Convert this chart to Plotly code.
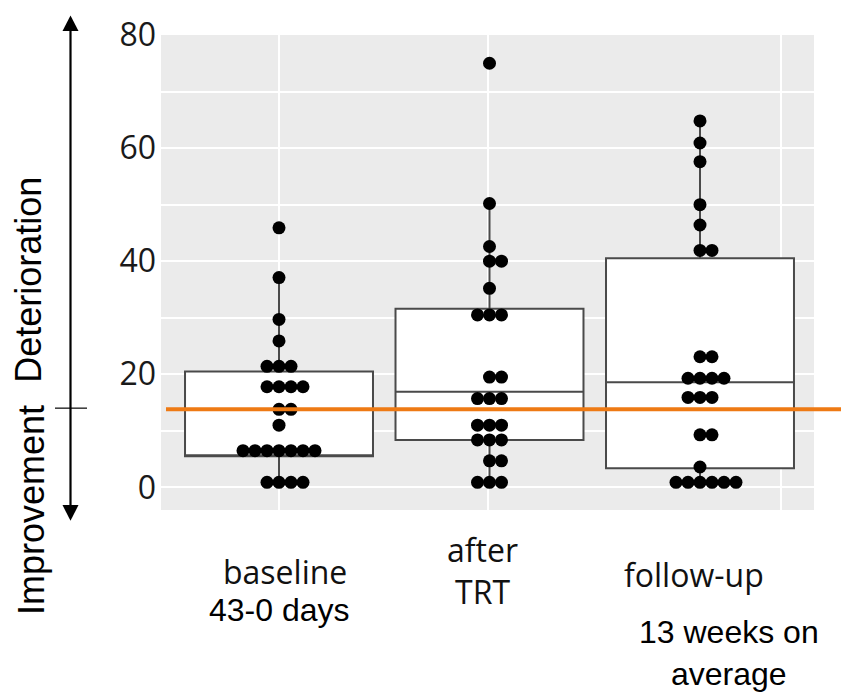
import plotly.graph_objects as go

# ---------------- data ----------------
categories = ["baseline", "after<br>TRT", "follow-up"]
sublabels = ["43-0 days", "13 weeks on<br>average"]

baseline = [45.9, 37.1, 29.7, 25.9,
            21.4, 21.4, 21.4,
            17.8, 17.8, 17.8, 17.8,
            13.8, 13.8, 11.0,
            6.5, 6.5, 6.5, 6.5, 6.5, 6.5, 6.5,
            0.9, 0.9, 0.9, 0.9]
after_trt = [75.0, 50.2, 42.6, 40.0, 40.0, 35.2,
             30.5, 30.5, 30.5,
             19.5, 19.5,
             15.7, 15.7, 15.7,
             11.0, 11.0, 11.0,
             8.4, 8.4, 8.4,
             4.7, 4.7,
             0.9, 0.9, 0.9]
follow_up = [64.8, 60.9, 57.6, 50.0, 46.4, 41.9, 41.9,
             23.1, 23.1,
             19.3, 19.3, 19.3, 19.3,
             15.9, 15.9, 15.9,
             9.3, 9.3, 3.6,
             0.9, 0.9, 0.9, 0.9, 0.9, 0.9]

box_q1 = [5.5, 8.4, 3.4]
box_median = [5.5, 16.9, 18.6]
box_q3 = [20.5, 31.6, 40.5]
box_lower = [0.9, 0.9, 0.9]
box_upper = [37.1, 50.2, 64.8]

reference_value = 13.8
y_ticks = [0, 20, 40, 60, 80]
y_minor = [10, 30, 50, 70]

# ---------------- layout helpers ----------------
L, R, T, B = 161, 814, 25, 510
W, H = R - L, B - T
def px(x):
    return (x - L) / W
def py(y):
    return (B - y) / H

positions = [1, 2, 3]
DOT_STEP = 0.057

def dot_coords(values, center):
    xs, ys = [], []
    groups = {}
    for v in values:
        groups.setdefault(v, 0)
        groups[v] += 1
    for v, n in groups.items():
        start = -((n - 1) // 2)
        for k in range(n):
            xs.append(center + (start + k) * DOT_STEP)
            ys.append(v)
    return xs, ys

fig = go.Figure()

for i in range(3):
    fig.add_trace(go.Box(
        x=[positions[i]], q1=[box_q1[i]], median=[box_median[i]], q3=[box_q3[i]],
        lowerfence=[box_lower[i]], upperfence=[box_upper[i]],
        width=0.893, whiskerwidth=0, boxpoints=False,
        fillcolor="white", line=dict(color="#4a4a4a", width=2),
        showlegend=False, hoverinfo="skip"))

for vals, c in zip([baseline, after_trt, follow_up], positions):
    xs, ys = dot_coords(vals, c)
    fig.add_trace(go.Scatter(
        x=xs, y=ys, mode="markers",
        marker=dict(color="black", size=13, line=dict(width=0)),
        showlegend=False, hoverinfo="skip"))

shapes = [
    # orange reference line
    dict(type="line", xref="paper", yref="y", x0=px(166), x1=px(841),
         y0=reference_value, y1=reference_value,
         line=dict(color="#EE7A14", width=4), layer="above"),
    # double arrow
    dict(type="line", xref="paper", yref="paper", x0=px(70.5), x1=px(70.5),
         y0=py(16), y1=py(510), line=dict(color="black", width=2.2)),
    dict(type="path", xref="paper", yref="paper",
         path=f"M {px(70.5)},{py(5)} L {px(62.5)},{py(21)} L {px(78.5)},{py(21)} Z",
         fillcolor="black", line=dict(color="black", width=0)),
    dict(type="path", xref="paper", yref="paper",
         path=f"M {px(70.5)},{py(521)} L {px(62.5)},{py(505)} L {px(78.5)},{py(505)} Z",
         fillcolor="black", line=dict(color="black", width=0)),
    dict(type="line", xref="paper", yref="paper", x0=px(55), x1=px(87),
         y0=py(406), y1=py(406), line=dict(color="black", width=1.2)),
]

cat_font = dict(family="Open Sans", size=32, color="#111111")
sub_font = dict(family="Liberation Sans, Arial", size=32, color="black")
annotations = [
    dict(text=categories[0], x=px(285), y=py(573)),
    dict(text=categories[1], x=px(482), y=py(572)),
    dict(text=categories[2], x=px(694), y=py(576)),
]
annotations = [dict(a, xref="paper", yref="paper", showarrow=False,
                    xanchor="center", yanchor="middle", font=cat_font)
               for a in annotations]
annotations += [
    dict(text=sublabels[0], x=px(279), y=py(612), xref="paper", yref="paper",
         showarrow=False, xanchor="center", yanchor="middle", font=sub_font),
    dict(text=sublabels[1], x=px(729), y=py(656), xref="paper", yref="paper",
         showarrow=False, xanchor="center", yanchor="middle", font=sub_font),
    dict(text="Deterioration", x=px(29), y=py(275), xref="paper", yref="paper",
         showarrow=False, xanchor="center", yanchor="middle", textangle=-90,
         font=dict(family="Liberation Sans, Arial", size=36, color="black")),
    dict(text="Improvement", x=px(31), y=py(510), xref="paper", yref="paper",
         showarrow=False, xanchor="center", yanchor="middle", textangle=-90,
         font=dict(family="Liberation Sans, Arial", size=36, color="black")),
]

fig.update_layout(
    width=841, height=699,
    margin=dict(l=L, r=841 - R, t=T, b=699 - B, pad=0),
    paper_bgcolor="white", plot_bgcolor="#EBEBEB",
    shapes=shapes, annotations=annotations,
    xaxis=dict(range=[0.4394, 3.5416], tickvals=[1, 1.993, 3.385],
               showticklabels=False, ticks="", showgrid=True,
               gridcolor="white", gridwidth=2, zeroline=False, showline=False),
    yaxis=dict(range=[-4, 80], tickvals=y_ticks, ticks="",
               showgrid=True, gridcolor="white", gridwidth=2,
               minor=dict(tickvals=y_minor, showgrid=True, gridcolor="white", gridwidth=1.5),
               zeroline=False, showline=False,
               tickfont=dict(family="Open Sans", size=32, color="#1a1a1a"),
               ticklabelstandoff=4),
)

fig.write_html("out.html", config={"displayModeBar": False},
               post_script="document.body.style.margin='0';document.body.style.overflow='hidden';")
